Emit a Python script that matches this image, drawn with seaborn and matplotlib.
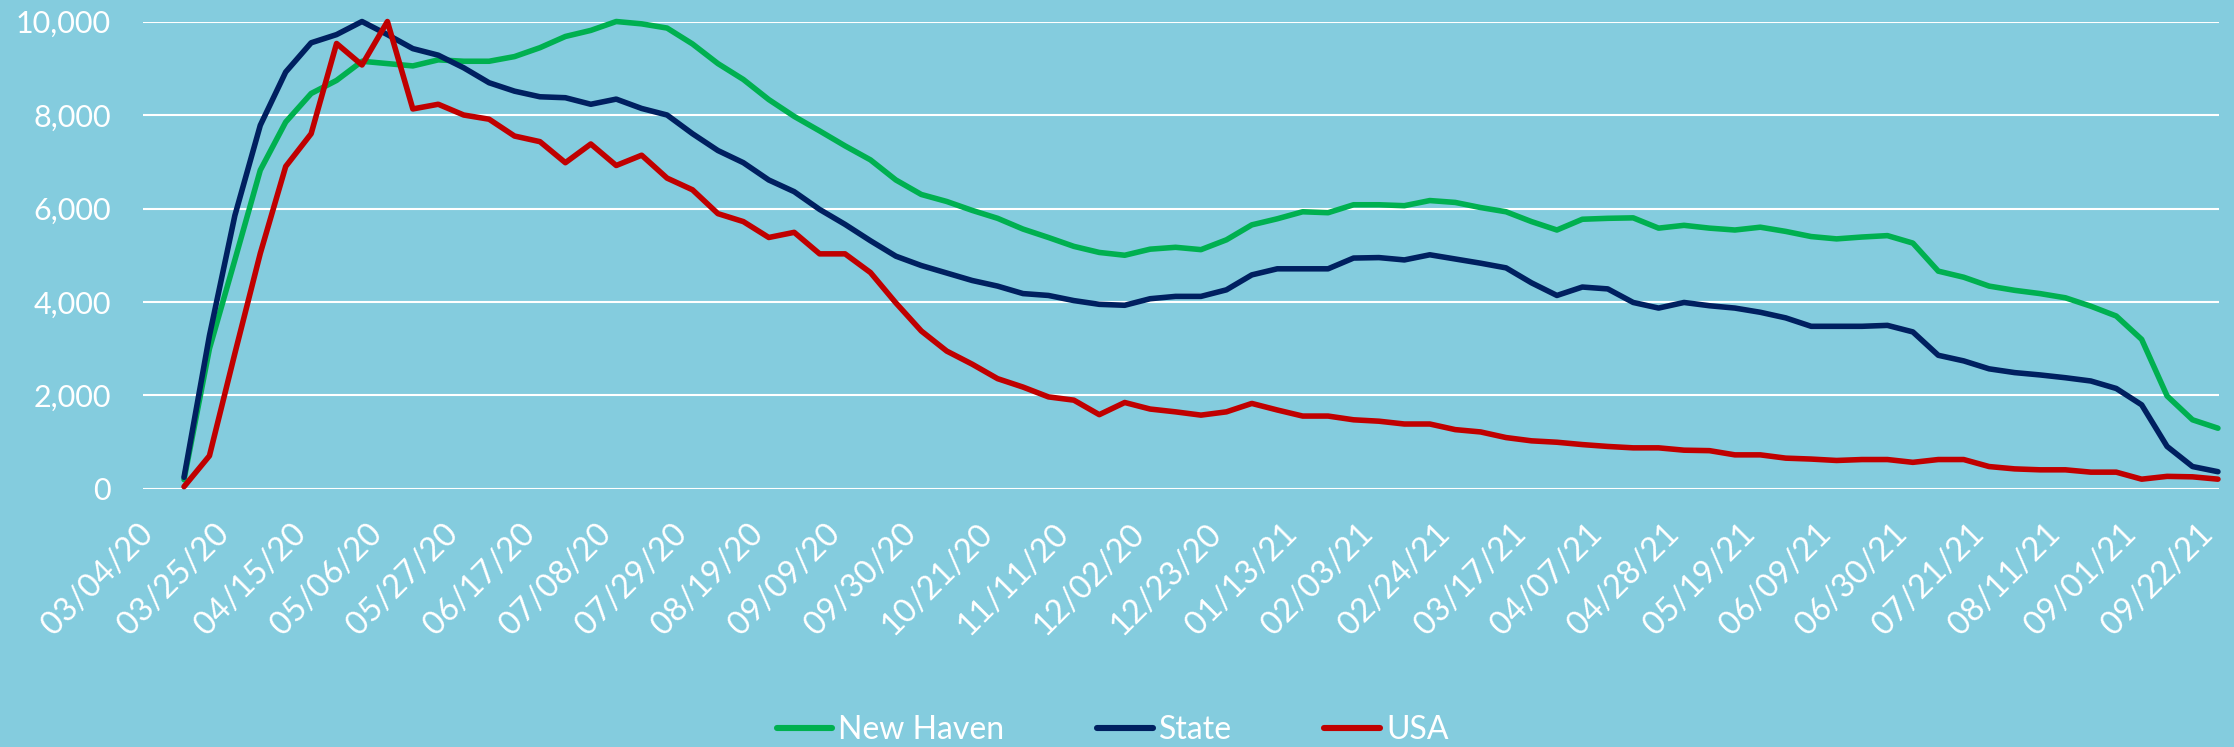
import pandas as pd
import matplotlib.pyplot as plt
import matplotlib.ticker as mticker
from matplotlib.transforms import ScaledTranslation
import seaborn as sns
import numpy as np

# weekly values, first week ending 03/11/20, last 09/22/21
new_haven = [200, 3000, 4900, 6820, 7850, 8460, 8740, 9150, 9100, 9050,
             9180, 9150, 9150, 9250, 9440, 9680, 9810, 10000, 9950, 9860,
             9520, 9100, 8760, 8330, 7970, 7660, 7340, 7040, 6610, 6300,
             6150, 5960, 5790, 5560, 5380, 5190, 5060, 5000, 5130, 5170,
             5120, 5330, 5650, 5780, 5930, 5910, 6080, 6080, 6060, 6170,
             6130, 6020, 5930, 5720, 5540, 5770, 5790, 5800, 5580, 5640,
             5580, 5540, 5600, 5510, 5400, 5350, 5390, 5420, 5260, 4660,
             4530, 4340, 4250, 4180, 4090, 3910, 3700, 3200, 1990, 1480,
             1300]
state = [250, 3280, 5850, 7780, 8920, 9545, 9720, 10000, 9720, 9420,
         9280, 9010, 8690, 8510, 8390, 8370, 8230, 8340, 8140, 8000,
         7600, 7240, 6980, 6610, 6360, 5980, 5660, 5310, 4980, 4780,
         4620, 4460, 4340, 4180, 4140, 4030, 3950, 3930, 4070, 4120,
         4120, 4260, 4580, 4710, 4710, 4710, 4940, 4950, 4900, 5010,
         4920, 4830, 4730, 4410, 4140, 4320, 4280, 3990, 3870, 3990,
         3920, 3870, 3780, 3660, 3480, 3480, 3480, 3500, 3360, 2860,
         2740, 2570, 2490, 2440, 2380, 2310, 2150, 1800, 910, 480,
         370]
usa = [50, 710, 2900, 5040, 6900, 7600, 9530, 9070, 10000, 8130,
       8230, 8000, 7910, 7550, 7430, 6980, 7380, 6920, 7140, 6650,
       6400, 5890, 5720, 5380, 5490, 5030, 5030, 4630, 3980, 3380,
       2950, 2670, 2360, 2180, 1970, 1900, 1590, 1850, 1710, 1650,
       1580, 1650, 1830, 1690, 1560, 1560, 1480, 1450, 1390, 1390,
       1270, 1220, 1100, 1030, 1000, 950, 910, 880, 880, 830,
       820, 730, 730, 660, 640, 610, 630, 630, 570, 630,
       630, 480, 430, 410, 410, 360, 360, 210, 270, 260,
       210]

tick_labels = ['03/04/20', '03/25/20', '04/15/20', '05/06/20', '05/27/20',
               '06/17/20', '07/08/20', '07/29/20', '08/19/20', '09/09/20',
               '09/30/20', '10/21/20', '11/11/20', '12/02/20', '12/23/20',
               '01/13/21', '02/03/21', '02/24/21', '03/17/21', '04/07/21',
               '04/28/21', '05/19/21', '06/09/21', '06/30/21', '07/21/21',
               '08/11/21', '09/01/21', '09/22/21']

series = {'New Haven': new_haven, 'State': state, 'USA': usa}
colors = {'New Haven': '#00B050', 'State': '#002060', 'USA': '#C00000'}

dates = pd.date_range('2020-03-11', periods=len(usa), freq='7D')
df = pd.concat([pd.DataFrame({'date': dates, 'value': v, 'area': k})
                for k, v in series.items()])

BG = '#84CCDE'
sns.set_theme(style='white')
plt.rcParams['font.family'] = ['Lato', 'DejaVu Sans']

fig = plt.figure(figsize=(22.34, 7.47), dpi=100, facecolor=BG)
ax = fig.add_axes([0.0640, 0.3454, 0.9293, 0.6258])
ax.set_facecolor(BG)

sns.lineplot(data=df, x='date', y='value', hue='area', palette=colors,
             linewidth=4.0, ax=ax, clip_on=False)

handles, labels = ax.get_legend_handles_labels()
ax.get_legend().remove()

ax.set_ylim(0, 10000)
ax.set_xlim(dates[0] - pd.Timedelta(days=11.3), dates[-1] + pd.Timedelta(days=0.3))
ax.yaxis.set_major_locator(mticker.MultipleLocator(2000))
ax.yaxis.set_major_formatter(mticker.FuncFormatter(lambda v, p: f'{int(v):,}'))
ax.grid(axis='y', color='white', linewidth=1.5)
ax.set_axisbelow(True)
for s in ax.spines.values():
    s.set_visible(False)

tick_pos = pd.to_datetime(tick_labels, format='%m/%d/%y')
ax.set_xticks(tick_pos)
ax.set_xticklabels(tick_labels, rotation=45, ha='right', va='center',
                   rotation_mode='anchor')
ax.tick_params(axis='x', length=0, pad=29, labelsize=23.5, labelcolor='white')
ax.tick_params(axis='y', length=0, pad=23, labelsize=22, labelcolor='white')
shift = ScaledTranslation(-0.10, 0, fig.dpi_scale_trans)
for t in ax.get_xticklabels():
    t.set_transform(t.get_transform() + shift)
ax.set_xlabel('')
ax.set_ylabel('')

leg = fig.legend(handles, labels, loc='center', bbox_to_anchor=(0.498, 0.023),
                 ncol=3, frameon=False, fontsize=23, handlelength=1.75,
                 handletextpad=0.18, columnspacing=2.9, borderpad=0)
for line in leg.get_lines():
    line.set_linewidth(4.4)
    line.set_solid_capstyle('round')
for t in leg.get_texts():
    t.set_color('white')

fig.savefig('out.png', dpi=100, facecolor=BG)
